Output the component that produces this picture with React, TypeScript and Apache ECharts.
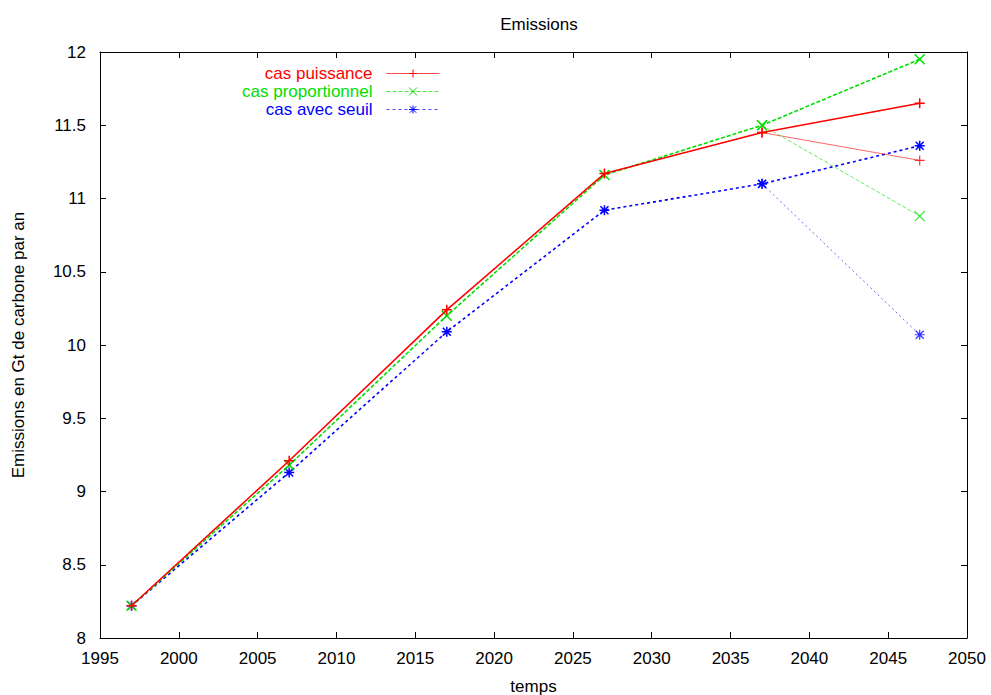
import React, { useEffect, useRef } from "react";
import * as echarts from "echarts";

const years = [1997, 2007, 2017, 2027, 2037, 2047];
const puissance = [8.22, 9.21, 10.24, 11.17, 11.45, 11.65];
const proportionnel = [8.22, 9.18, 10.2, 11.16, 11.5, 11.95];
const seuil = [8.22, 9.13, 10.09, 10.92, 11.1, 11.36];

const brancheYears = [2037, 2047];
const puissanceBas = [11.45, 11.26];
const proportionnelBas = [11.5, 10.88];
const seuilBas = [11.1, 10.07];

const names = ["cas puissance", "cas proportionnel", "cas avec seuil"];
const colors = ["#ff0000", "#00e000", "#0000ff"];

const PLUS = "path://M0,5L10,5M5,0L5,10";
const CROSS = "path://M0,0L10,10M10,0L0,10";
const STAR = "path://M0,5L10,5M5,0L5,10M1,1L9,9M9,1L1,9";

const FONT = "'Liberation Sans', Arial, sans-serif";
const FS = 17;

function pairs(xs: number[], ys: number[]) {
  return xs.map((x, i) => [x, ys[i]]);
}

export default function App() {
  const ref = useRef<HTMLDivElement>(null);
  useEffect(() => {
    if (!ref.current) return;
    const chart = echarts.init(ref.current, undefined, { renderer: "svg" });
    const axisLine = { show: true, lineStyle: { color: "#000", width: 1 } };
    const tick = { show: true, inside: true, length: 6, lineStyle: { color: "#000" } };
    const mainSeries = (i: number, ys: number[], sym: string, dash: any) => ({
      name: names[i],
      type: "line",
      data: pairs(years, ys),
      symbol: sym,
      symbolSize: 10,
      showSymbol: true,
      lineStyle: { color: colors[i], width: 1.6, type: dash },
      itemStyle: { color: "transparent", borderColor: colors[i], borderWidth: 1.5 },
      z: 3 - i,
    });
    const branchSeries = (i: number, ys: number[], sym: string, dash: any) => ({
      name: names[i] + " bas",
      type: "line",
      data: pairs(brancheYears, ys),
      symbol: sym,
      symbolSize: 10,
      showSymbol: true,
      lineStyle: { color: colors[i], width: 1, type: dash, opacity: 0.6 },
      itemStyle: { color: "transparent", borderColor: colors[i], borderWidth: 1.2, opacity: 0.8 },
      z: 1,
    });
    chart.setOption({
      animation: false,
      backgroundColor: "#fff",
      title: {
        text: "Emissions",
        left: 534,
        textAlign: "center",
        top: 11,
        textStyle: { fontFamily: FONT, fontSize: FS, fontWeight: "normal", color: "#000" },
      },
      legend: {
        orient: "vertical",
        right: 546,
        top: 60,
        align: "right",
        itemWidth: 53,
        itemHeight: 10,
        itemGap: 1,
        lineStyle: { width: 1, opacity: 0.7 },
        itemStyle: { borderWidth: 1 },
        data: names.map((n, i) => ({
          name: n,
          textStyle: {
            color: colors[i],
            fontFamily: FONT,
            fontSize: FS,
            padding: [0, 9, 0, 0],
          },
        })),
      },
      grid: {
        left: 100,
        right: 24,
        top: 52,
        bottom: 57,
        containLabel: false,
        outerBoundsMode: "none",
      },
      xAxis: [
        {
          type: "value",
          min: 1995,
          max: 2050,
          interval: 5,
          position: "bottom",
          name: "temps",
          nameLocation: "middle",
          nameGap: 40,
          nameTextStyle: { fontFamily: FONT, fontSize: FS, color: "#000" },
          axisLine,
          axisTick: tick,
          axisLabel: {
            fontFamily: FONT,
            fontSize: FS,
            color: "#000",
            margin: 12,
            formatter: (v: number) => String(v),
          },
          splitLine: { show: false },
        },
        {
          type: "value",
          min: 1995,
          max: 2050,
          interval: 5,
          position: "top",
          axisLine,
          axisTick: tick,
          axisLabel: { show: false },
          splitLine: { show: false },
        },
      ],
      yAxis: [
        {
          type: "value",
          min: 8,
          max: 12,
          interval: 0.5,
          position: "left",
          name: "Emissions en Gt de carbone par an",
          nameLocation: "middle",
          nameGap: 73,
          nameTextStyle: { fontFamily: FONT, fontSize: FS, color: "#000" },
          axisLine,
          axisTick: tick,
          axisLabel: { fontFamily: FONT, fontSize: FS, color: "#000", margin: 14 },
          splitLine: { show: false },
        },
        {
          type: "value",
          min: 8,
          max: 12,
          interval: 0.5,
          position: "right",
          axisLine,
          axisTick: tick,
          axisLabel: { show: false },
          splitLine: { show: false },
        },
      ],
      series: [
        mainSeries(0, puissance, PLUS, "solid"),
        mainSeries(1, proportionnel, CROSS, [4, 2]),
        mainSeries(2, seuil, STAR, [3, 3]),
        branchSeries(0, puissanceBas, PLUS, "solid"),
        branchSeries(1, proportionnelBas, CROSS, [4, 2]),
        branchSeries(2, seuilBas, STAR, [2, 3]),
      ],
    });
    return () => chart.dispose();
  }, []);
  return (
    <div
      ref={ref}
      style={{ position: "absolute", left: 0, top: 0, width: 991, height: 695 }}
    />
  );
}
